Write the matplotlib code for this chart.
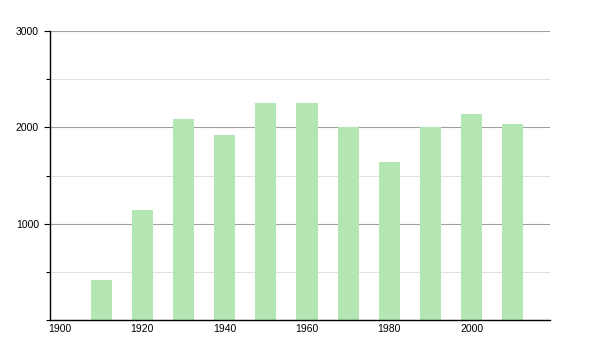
import matplotlib
matplotlib.use("Agg")
import matplotlib.pyplot as plt
from matplotlib.ticker import MultipleLocator

years = [1910, 1920, 1930, 1940, 1950, 1960, 1970, 1980, 1990, 2000, 2010]
population = [415, 1145, 2083, 1920, 2250, 2253, 2005, 1640, 2003, 2140, 2035]
x_ticks = [1900, 1920, 1940, 1960, 1980, 2000]
y_ticks = [1000, 2000, 3000]

plt.rcParams['font.family'] = ['Liberation Sans', 'DejaVu Sans']

fig = plt.figure(figsize=(6, 3.5), dpi=100)
ax = fig.add_axes([50 / 600, 30 / 350, 500 / 600, 289 / 350])

ax.bar(years, population, width=5.1, color='#b3e6b3', zorder=2)

ax.set_xlim(1897.6, 2019.0)
ax.set_ylim(0, 3000)
ax.set_xticks(x_ticks)
ax.set_xticklabels([str(t) for t in x_ticks], fontsize=7.5)
ax.set_yticks(y_ticks)
ax.set_yticklabels([str(t) for t in y_ticks], fontsize=7.5)
ax.yaxis.set_minor_locator(MultipleLocator(500))

ax.grid(axis='y', which='major', color='#a0a0a0', linewidth=0.8, zorder=0)
ax.grid(axis='y', which='minor', color='#e0e0e0', linewidth=0.8, zorder=0)
ax.tick_params(axis='x', length=0, pad=3)
ax.tick_params(axis='y', which='major', length=4, width=0.8, pad=4)
ax.tick_params(axis='y', which='minor', length=3, width=0.8)

for side in ['top', 'right']:
    ax.spines[side].set_visible(False)
for side in ['left', 'bottom']:
    ax.spines[side].set_color('black')
    ax.spines[side].set_linewidth(1.0)

fig.savefig('out.png', dpi=100)
